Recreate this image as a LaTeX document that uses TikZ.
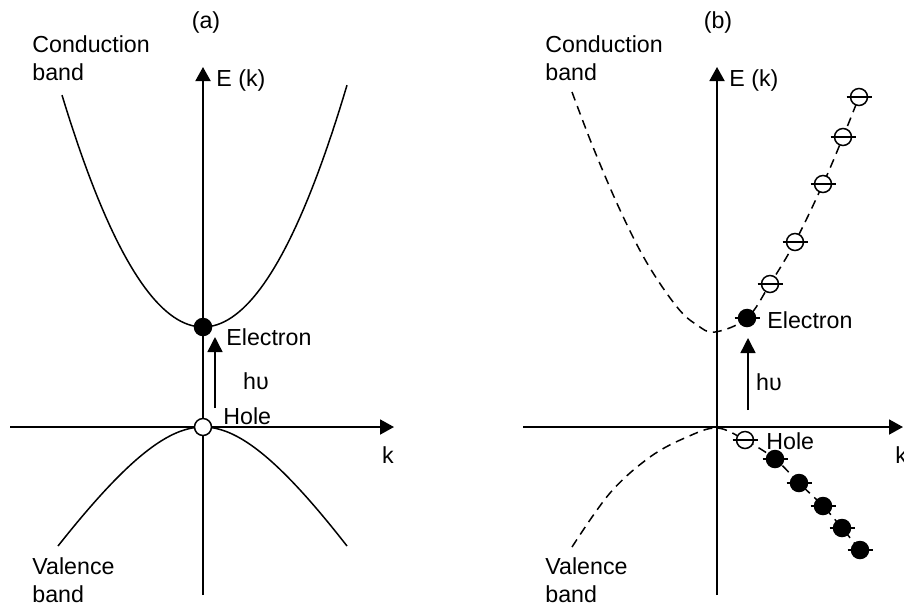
\documentclass[tikz,border=0pt]{standalone}
\usepackage{fontspec}
\setmainfont{Liberation Sans}
\usetikzlibrary{arrows.meta}
\tikzset{
  axis/.style={line width=0.95pt, -{Triangle[length=7pt,width=7.5pt]}},
  band/.style={line width=0.75pt},
  dband/.style={line width=0.75pt, dash pattern=on 4.5pt off 3pt},
  full/.style={circle, fill=black, draw=black, line width=0.75pt, inner sep=0pt, minimum size=8.5pt},
  hollow/.style={circle, fill=white, draw=black, line width=0.75pt, inner sep=0pt, minimum size=8.5pt},
  tick/.style={line width=0.75pt},
  pump/.style={line width=0.75pt, -{Triangle[length=7.5pt,width=7.5pt]}},
  lbl/.style={font=\fontsize{11.6}{14}\selectfont, inner sep=0pt, align=left},
}

\begin{document}
\begin{tikzpicture}[x=0.5pt, y=-0.5pt]
  \useasboundingbox (0,0) rectangle (904,607);

  % ---- panel (a)
  \coordinate (aE0) at (203,595);
  \coordinate (aE1) at (203,67);
  \coordinate (ak0) at (10,427);
  \coordinate (ak1) at (394,427);
  \draw[axis] (aE0) -- (aE1);
  \draw[axis] (ak0) -- (ak1);

  \draw[band] plot[domain=62:347, samples=80] (\x, {327-((\x-203)*0.108)^2});
  \draw[band] (58,546) .. controls (130,455) and (170,427) .. (203,427)
              .. controls (236,427) and (276,455) .. (347,546);

  \node[full]   (aEl) at (203,327) {};
  \node[hollow] (aHo) at (203,427) {};

  \coordinate (aP0) at (215,408);
  \coordinate (aP1) at (215,337);
  \draw[pump] (aP0) -- (aP1);

  \node[lbl] (aTitle) at (206,22) {(a)};
  \node[lbl, anchor=north west] (aCB) at (32,35) {Conduction\\band};
  \node[lbl, anchor=north west] (aVB) at (32,557) {Valence\\band};
  \node[lbl, anchor=west] (aEk) at (216,80) {E (k)};
  \node[lbl] (ak) at (388,455) {k};
  \node[lbl, anchor=west] (aElt) at (226,337) {Electron};
  \node[lbl] (ahv) at (256,381) {hυ};
  \node[lbl, anchor=west] (aHot) at (223,416) {Hole};

  % ---- panel (b)
  \coordinate (bE0) at (717,595);
  \coordinate (bE1) at (717,67);
  \coordinate (bk0) at (523,427);
  \coordinate (bk1) at (903,427);
  \draw[axis] (bE0) -- (bE1);
  \draw[axis] (bk0) -- (bk1);

  \draw[dband] plot[smooth, tension=0.6] coordinates {(572,92) (593,147) (620,210)
    (647,263) (677,307) (697,325) (715,332) (747,318) (770,284) (795,242)
    (823,184) (843,137) (859,97)};
  \draw[dband] plot[smooth, tension=0.6] coordinates {(572,547) (610,493) (650,457)
    (687,437) (717,428) (745,440) (775,459) (799,483) (823,506) (842,528) (860,550)};

  \node[full] (bEl) at (747,318) {};
  \draw[tick] ([xshift=-6.25pt]bEl.center) -- ([xshift=6.25pt]bEl.center);
  \foreach \x/\y [count=\i] in {770/284,795/242,823/184,843/137,859/97} {
    \node[hollow] (bc\i) at (\x,\y) {};
    \draw[tick] ([xshift=-6.25pt]bc\i.center) -- ([xshift=6.25pt]bc\i.center);
  }
  \node[hollow] (bHo) at (745,440) {};
  \draw[tick] ([xshift=-6.25pt]bHo.center) -- ([xshift=6.25pt]bHo.center);
  \foreach \x/\y [count=\i] in {775/459,799/483,823/506,842/528,860/550} {
    \node[full] (bv\i) at (\x,\y) {};
    \draw[tick] ([xshift=-6.25pt]bv\i.center) -- ([xshift=6.25pt]bv\i.center);
  }

  \coordinate (bP0) at (748,410);
  \coordinate (bP1) at (748,338);
  \draw[pump] (bP0) -- (bP1);

  \node[lbl] (bTitle) at (718,22) {(b)};
  \node[lbl, anchor=north west] (bCB) at (545,35) {Conduction\\band};
  \node[lbl, anchor=north west] (bVB) at (545,557) {Valence\\band};
  \node[lbl, anchor=west] (bEk) at (729,80) {E (k)};
  \node[lbl, anchor=west] (bk) at (895,455) {k};
  \node[lbl, anchor=west] (bElt) at (767,320) {Electron};
  \node[lbl] (bhv) at (769,382) {hυ};
  \node[lbl, anchor=west] (bHot) at (766,441) {Hole};
\end{tikzpicture}
\end{document}
